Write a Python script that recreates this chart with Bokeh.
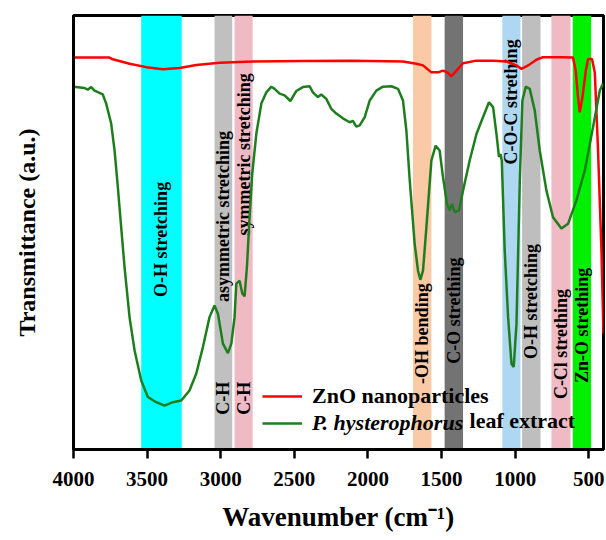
import numpy as np
from bokeh.plotting import figure
from bokeh.models import Range1d, Legend, LegendItem, Label, FixedTicker
from bokeh.core.properties import value
from bokeh.embed import file_html
from bokeh.resources import INLINE

# ---------------- data ----------------
zno_wn = [4000, 3755, 3733, 3619, 3506, 3393, 3280, 3166, 3008, 2781, 2442, 2102,
          1762, 1671, 1626, 1569, 1524, 1490, 1456, 1433, 1399, 1354, 1263, 1150,
          1059, 991, 957, 912, 856, 811, 686, 607, 589, 573, 561, 543, 520, 505,
          478, 459, 437, 414, 400]
zno_t = [90.3, 90.3, 89.9, 88.9, 88.1, 87.6, 87.9, 88.6, 89.1, 89.4, 89.5, 89.6,
         89.4, 88.9, 88.5, 86.9, 86.9, 87.3, 86.8, 86.0, 87.3, 89.0, 89.6, 89.6,
         89.4, 88.5, 87.7, 88.5, 89.8, 90.4, 90.4, 90.3, 87.3, 81.2, 77.7, 81.2, 87.3, 90.0,
         90.0, 86.8, 68.9, 45.9, 26.7]

leaf_wn = [4000, 3925, 3903, 3880, 3857, 3801, 3778, 3744, 3721, 3701, 3676, 3653,
           3619, 3585, 3540, 3495, 3438, 3382, 3325, 3268, 3212, 3166, 3121, 3076,
           3042, 3019, 2985, 2951, 2928, 2906, 2894, 2872, 2853, 2838, 2822, 2804,
           2786, 2758, 2724, 2690, 2656, 2634, 2600, 2566, 2527, 2487, 2442, 2396,
           2374, 2340, 2317, 2283, 2249, 2215, 2170, 2124, 2102, 2079, 2056, 2022,
           1988, 1943, 1898, 1841, 1796, 1762, 1739, 1717, 1683, 1660, 1644, 1626,
           1603, 1569, 1540, 1513, 1490, 1463, 1445, 1429, 1411, 1381, 1354, 1309,
           1263, 1218, 1178, 1150, 1127, 1110, 1100, 1091, 1071, 1048, 1025, 1010,
           991, 969, 951, 928, 901, 867, 833, 788, 743, 686, 641, 584, 527, 471, 425, 403]
leaf_t = [83.6, 83.3, 82.9, 83.5, 82.7, 81.8, 79.7, 75.1, 68.9, 61.3, 51.2, 41.9,
          30.4, 22.8, 15.9, 12.1, 10.9, 10.1, 10.9, 11.3, 13.6, 17.5, 23.6, 30.5,
          33.2, 31.3, 24.4, 22.2, 24.4, 30.5, 38.2, 38.9, 35.9, 35.3, 42.0, 53.5,
          63.5, 72.8, 79.7, 82.3, 83.6, 83.1, 82.0, 81.6, 80.3, 82.6, 83.5, 83.7,
          82.3, 81.2, 81.8, 80.8, 78.5, 77.4, 76.3, 75.4, 75.7, 74.4, 74.7, 76.6,
          80.4, 82.7, 83.6, 83.7, 83.1, 80.4, 73.5, 62.4, 47.5, 41.2, 39.1, 41.2,
          51.2, 66.6, 70.0, 68.9, 62.7, 56.6, 55.1, 56.6, 54.7, 55.1, 59.7, 66.6,
          72.7, 76.6, 80.0, 78.9, 72.7, 67.4, 68.1, 66.6, 45.9, 30.5, 19.7, 19.0,
          29.0, 61.2, 80.4, 83.6, 83.1, 78.1, 68.9, 59.7, 53.5, 50.9, 52.0, 57.4, 64.3, 74.3, 82.7, 84.3]

band_lo = [3540, 3042, 2906, 1694, 1479, 1087, 953, 754, 609]
band_hi = [3265, 2922, 2783, 1569, 1354, 964, 828, 624, 484]
band_colors = ["#00FFFF", "#C0C0C0", "#F0BAC4", "#FAC9A6", "#737373",
               "#AED8F2", "#BEBEBE", "#F0BAC4", "#00F000"]
band_labels = ["O-H stretching", "asymmetric stretching", "symmetric stretching",
               "-OH bending", "C-O strething", "C-O-C  strething", "O-H stretching",
               "C-Cl strething", "Zn-O strething"]
ch_labels = ["C-H", "C-H"]
x_ticks = [4000, 3500, 3000, 2500, 2000, 1500, 1000, 500]

# ---------------- layout constants ----------------
label_y = [48.4, 53.7, 68.0, 26.7, 32.0, 80.6, 34.1, 24.3, 28.6]
ch_y = 11.8
FONT = "Liberation Serif"

p = figure(width=605, height=540, x_range=Range1d(4000, 400), y_range=Range1d(0, 100),
           output_backend="svg", toolbar_location=None,
           min_border_left=73, min_border_right=2, min_border_top=15, min_border_bottom=91)
p.xgrid.visible = False
p.ygrid.visible = False
p.outline_line_color = "black"
p.outline_line_width = 3
p.outline_line_alpha = 1
p.background_fill_color = "white"

band_mid = [(a + b) / 2 for a, b in zip(band_lo, band_hi)]
p.quad(left=band_lo, right=band_hi, bottom=p.y_range.start, top=p.y_range.end,
       fill_color=band_colors, line_color=None)

p.text(x=band_mid, y=label_y, text=band_labels, angle=np.pi / 2,
       text_align="center", text_baseline="middle", text_font=value(FONT),
       text_font_style="bold", text_font_size="18px", text_color="black")
p.text(x=band_mid[1:3], y=[ch_y, ch_y], text=ch_labels, angle=np.pi / 2,
       text_align="center", text_baseline="middle", text_font=value(FONT),
       text_font_style="bold", text_font_size="18px", text_color="black")

r_zno = p.line(zno_wn, zno_t, color="#FF0000", line_width=2.5)
r_leaf = p.line(leaf_wn, leaf_t, color="#1E7E1E", line_width=2.5)

# axes
xa = p.xaxis[0]
xa.ticker = FixedTicker(ticks=x_ticks)
xa.minor_tick_line_color = None
xa.major_tick_in = 0
xa.major_tick_out = 9
xa.major_tick_line_width = 2.5
xa.axis_line_width = 3
xa.major_label_text_font = FONT
xa.major_label_text_font_style = "bold"
xa.major_label_text_font_size = "21px"
xa.major_label_text_color = "black"
xa.major_label_standoff = 13
xa.axis_label = "Wavenumber (cm\u207b\u00b9)"
xa.axis_label_text_font = FONT
xa.axis_label_text_font_style = "bold"
xa.axis_label_text_font_size = "27px"
xa.axis_label_text_color = "black"
xa.axis_label_standoff = 13

ya = p.yaxis[0]
ya.ticker = FixedTicker(ticks=[])
ya.minor_tick_line_color = None
ya.major_tick_out = 0
ya.major_tick_in = 0
ya.major_label_text_font_size = "0px"
ya.axis_line_width = 3
ya.axis_label = "Transmittance (a.u.)"
ya.axis_label_text_font = FONT
ya.axis_label_text_font_style = "bold"
ya.axis_label_text_font_size = "24px"
ya.axis_label_text_color = "black"
ya.axis_label_standoff = 34

def make_legend(item, loc, style):
    lg = Legend(items=[item], location=loc, orientation="vertical",
                background_fill_alpha=0, border_line_alpha=0, padding=0, margin=0,
                glyph_width=40, glyph_height=20, label_standoff=10, label_height=20,
                label_text_font=FONT, label_text_font_style=style,
                label_text_font_size="22px", label_text_color="black")
    return lg

p.add_layout(make_legend(LegendItem(label="ZnO nanoparticles", renderers=[r_zno]), (189, 40), "bold"))
p.add_layout(make_legend(LegendItem(label="P. hysterophorus", renderers=[r_leaf]), (189, 13), "bold italic"))
p.add_layout(Label(x=1310, y=6.7, text="leaf extract", text_font=FONT, text_font_style="bold",
                   text_font_size="22px", text_baseline="middle", text_align="left",
                   text_color="black"))

open("out.html", "w").write(file_html(p, INLINE))
